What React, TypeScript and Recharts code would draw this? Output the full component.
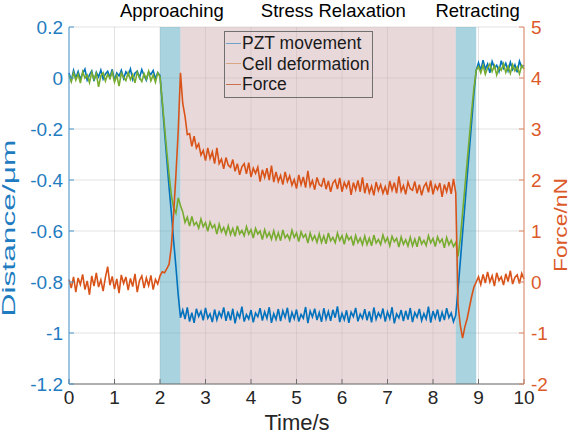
import {
  LineChart,
  Line,
  XAxis,
  YAxis,
  CartesianGrid,
  ReferenceArea,
  ReferenceLine,
} from "recharts";

// sampled every 0.05 s from 0 to 10 s (201 samples)
const STEP = 0.05;

const pztMovement = [
  0.02, -0.01, 0.03, 0.0, 0.025, -0.005, 0.018, 0.035, -0.008, 0.012,
  0.028, -0.012, 0.022, 0.004, 0.031, -0.004, 0.016, 0.026, 0.002, 0.034,
  -0.01, 0.02, 0.008, 0.03, -0.002, 0.024, 0.011, 0.036, -0.006, 0.019,
  0.027, 0.001, 0.033, 0.009, -0.009, 0.023, 0.014, 0.029, -0.003, 0.021,
  0.01,
  -0.1, -0.21, -0.32, -0.43, -0.53, -0.64, -0.74, -0.85, -0.94,
  -0.91, -0.945, -0.9, -0.955, -0.92, -0.96, -0.905, -0.935, -0.915, -0.95,
  -0.902, -0.942, -0.925, -0.957, -0.908, -0.948, -0.918, -0.938, -0.9, -0.952,
  -0.915, -0.95, -0.905, -0.962, -0.92, -0.94, -0.897, -0.955, -0.928, -0.945,
  -0.91, -0.958, -0.922, -0.936, -0.903, -0.951, -0.917, -0.943, -0.899, -0.96,
  -0.924, -0.947, -0.906, -0.953, -0.913, -0.939, -0.901, -0.958, -0.919, -0.944,
  -0.908, -0.955, -0.927, -0.942, -0.898, -0.961, -0.914, -0.937, -0.905, -0.949,
  -0.92, -0.956, -0.903, -0.945, -0.916, -0.952, -0.909, -0.94, -0.896, -0.957,
  -0.923, -0.948, -0.911, -0.96, -0.918, -0.936, -0.902, -0.954, -0.926, -0.943,
  -0.907, -0.95, -0.915, -0.958, -0.9, -0.946, -0.921, -0.939, -0.904, -0.955,
  -0.917, -0.944, -0.899, -0.962, -0.925, -0.941, -0.91, -0.953, -0.913, -0.947,
  -0.902, -0.957, -0.92, -0.938, -0.906, -0.951, -0.924, -0.945, -0.897, -0.959,
  -0.914, -0.942, -0.908, -0.955, -0.919, -0.949, -0.903, -0.94, -0.922, -0.956,
  -0.93,
  -0.83, -0.72, -0.61, -0.5, -0.39, -0.28, -0.17, -0.06, 0.03,
  0.06, 0.03, 0.07, 0.035, 0.055, 0.02, 0.065, 0.04, 0.05, 0.025,
  0.068, 0.038, 0.058, 0.028, 0.062, 0.033, 0.052, 0.022, 0.066, 0.042,
  0.05,
];

const cellDeformation = [
  0.01, -0.015, 0.02, -0.008, 0.015, -0.02, 0.025, 0.0, 0.012, -0.018,
  0.022, -0.005, 0.018, -0.035, 0.008, 0.02, -0.012, 0.015, -0.002, 0.024,
  -0.016, 0.01, -0.032, 0.019, 0.003, -0.01, 0.021, -0.006, 0.014, -0.019,
  0.023, 0.001, -0.014, 0.017, -0.004, 0.026, -0.011, 0.012, -0.017, 0.02,
  0.005,
  -0.09, -0.19, -0.29, -0.38, -0.46, -0.51, -0.53, -0.47, -0.5,
  -0.525, -0.566, -0.546, -0.581, -0.543, -0.577, -0.566, -0.589, -0.553, -0.583,
  -0.567, -0.601, -0.565, -0.588, -0.576, -0.612, -0.573, -0.603, -0.586, -0.613,
  -0.58, -0.614, -0.59, -0.621, -0.58, -0.611, -0.598, -0.619, -0.583, -0.612,
  -0.595, -0.628, -0.59, -0.612, -0.6, -0.634, -0.595, -0.624, -0.606, -0.632,
  -0.599, -0.633, -0.607, -0.638, -0.596, -0.627, -0.614, -0.634, -0.597, -0.625,
  -0.608, -0.641, -0.603, -0.625, -0.613, -0.647, -0.608, -0.636, -0.619, -0.644,
  -0.611, -0.645, -0.619, -0.65, -0.608, -0.639, -0.625, -0.646, -0.608, -0.637,
  -0.619, -0.652, -0.614, -0.635, -0.623, -0.657, -0.618, -0.646, -0.628, -0.654,
  -0.62, -0.653, -0.628, -0.658, -0.616, -0.647, -0.633, -0.653, -0.616, -0.644,
  -0.626, -0.658, -0.621, -0.642, -0.629, -0.663, -0.624, -0.652, -0.634, -0.659,
  -0.625, -0.658, -0.632, -0.662, -0.621, -0.651, -0.637, -0.657, -0.619, -0.647,
  -0.629, -0.661, -0.623, -0.645, -0.632, -0.666, -0.626, -0.654, -0.636, -0.661,
  -0.645,
  -0.7, -0.63, -0.53, -0.43, -0.33, -0.23, -0.13, -0.04, 0.03,
  0.045, 0.02, 0.05, 0.015, 0.04, 0.055, 0.025, 0.048, 0.012, 0.042,
  0.03, 0.056, 0.022, 0.046, 0.018, 0.052, 0.028, 0.044, 0.016, 0.05,
  0.035,
];

const force = [
  0.05, -0.12, 0.1, -0.2, 0.08, -0.05, 0.15, -0.15, 0.02, -0.25,
  0.12, -0.08, 0.18, -0.1, 0.04, -0.18, 0.09, 0.3, -0.06, 0.11,
  -0.14, 0.06, -0.22, 0.14, -0.03, 0.1, -0.16, 0.07, -0.09, 0.16,
  -0.2, 0.03, 0.12, -0.12, 0.08, -0.07, 0.13, -0.15, 0.05, -0.04,
  0.12,
  0.2, 0.18, 0.26, 0.35, 0.7, 1.35, 2.1, 2.95, 4.1,
  3.5,
  3.25, 2.89, 2.91, 2.66, 2.86, 2.63, 2.71, 2.49, 2.58, 2.38,
  2.63, 2.42, 2.55, 2.32, 2.63, 2.32, 2.41, 2.22, 2.44, 2.29,
  2.25, 2.4, 2.17, 2.32, 2.1, 2.26, 2.32, 2.12, 2.34, 2.06,
  2.23, 2.13, 2.25, 1.97, 2.2, 2.05, 2.23, 2.0, 2.28, 1.96,
  2.16, 1.97, 2.09, 1.91, 2.16, 1.97, 2.08, 1.9, 2.01, 1.83,
  2.1, 1.91, 2.06, 1.85, 2.18, 1.88, 1.99, 1.81, 2.05, 1.91,
  1.88, 2.04, 1.82, 1.98, 1.77, 1.94, 2.0, 1.82, 2.04, 1.77,
  1.95, 1.85, 1.99, 1.71, 1.95, 1.81, 1.99, 1.77, 2.05, 1.74,
  1.94, 1.75, 1.88, 1.7, 1.96, 1.79, 1.91, 1.74, 1.87, 1.71,
  1.98, 1.8, 1.95, 1.74, 2.07, 1.78, 1.89, 1.72, 1.96, 1.83,
  1.8, 1.97, 1.74, 1.91, 1.7, 1.87, 1.94, 1.76, 1.99, 1.72,
  1.9, 1.81, 1.94, 1.67, 1.91, 1.77, 1.96, 1.73, 2.02,
  1.75,
  -0.45, -0.85, -1.1, -0.88, -0.72, -0.5, -0.28, -0.1, 0.0,
  0.1, -0.05, 0.15, -0.02, 0.2, 0.0, 0.12, -0.08, 0.18, 0.03,
  0.1, -0.06, 0.16, 0.01, 0.22, -0.04, 0.09, 0.14, -0.03, 0.17,
  0.06,
];

const xTicks = [0, 1, 2, 3, 4, 5, 6, 7, 8, 9, 10];
const distanceTicks = [-1.2, -1, -0.8, -0.6, -0.4, -0.2, 0, 0.2];
const forceTicks = [-2, -1, 0, 1, 2, 3, 4, 5];

const phaseNames = ["Approaching", "Stress Relaxation", "Retracting"];
const phaseStart = [2, 2.45, 8.5];
const phaseEnd = [2.45, 8.5, 8.95];
const phaseTitleAt = [2.26, 5.81, 8.98];

const seriesNames = ["PZT movement", "Cell deformation", "Force"];

const data = pztMovement.map((v, i) => ({
  t: +(i * STEP).toFixed(2),
  pzt: v,
  cell: cellDeformation[i],
  force: force[i],
}));

const BLUE = "#0072bd";
const GREEN = "#77ac30";
const ORANGE = "#d95319";
const phaseFill = ["#53a7bf", "#d3b1b5", "#53a7bf"];
const legendColors = ["#6fa3cc", "#d9a682", "#c9704c"];

const FONT = "'Liberation Sans', Arial, sans-serif";

export default function App() {
  return (
    <div
      style={{
        position: "absolute",
        left: 0,
        top: 0,
        width: 573,
        height: 439,
        background: "#fff",
        fontFamily: FONT,
      }}
    >
      <LineChart
        width={573}
        height={439}
        data={data}
        margin={{ top: 27, right: 0, bottom: 0, left: 0 }}
        style={{ fontFamily: FONT }}
      >
        {phaseNames.map((name, i) => (
          <ReferenceArea
            key={name}
            yAxisId="left"
            x1={phaseStart[i]}
            x2={phaseEnd[i]}
            fill={phaseFill[i]}
            fillOpacity={0.5}
            stroke="none"
          />
        ))}
        <CartesianGrid yAxisId="left" stroke="#262626" strokeOpacity={0.13} />
        <XAxis
          type="number"
          dataKey="t"
          domain={[0, 10]}
          ticks={xTicks}
          height={55}
          stroke="#6e6e6e"
          tickSize={-5}
          tickMargin={12}
          tick={{ fill: "#262626", fontSize: 19 }}
        />
        <YAxis
          yAxisId="left"
          domain={[-1.2, 0.2]}
          ticks={distanceTicks}
          width={69}
          stroke="#4b98cf"
          tickSize={-5}
          tickMargin={11}
          tick={{ fill: "#1f7cc1", fontSize: 19 }}
          tickFormatter={(v) => String(v)}
        />
        <YAxis
          yAxisId="right"
          orientation="right"
          domain={[-2, 5]}
          ticks={forceTicks}
          width={49}
          stroke="#e08a66"
          tickSize={-5}
          tickMargin={12}
          tick={{ fill: "#dc5a2a", fontSize: 19 }}
        />
        {phaseNames.map((name, i) => (
          <ReferenceLine
            key={"t" + name}
            yAxisId="left"
            x={phaseTitleAt[i]}
            stroke="none"
            label={{
              value: name,
              position: "top",
              offset: 10,
              fill: "#000",
              fontSize: 18.5,
            }}
          />
        ))}
        <Line
          yAxisId="left"
          dataKey="pzt"
          stroke={BLUE}
          strokeWidth={1.6}
          dot={false}
          isAnimationActive={false}
        />
        <Line
          yAxisId="left"
          dataKey="cell"
          stroke={GREEN}
          strokeWidth={1.6}
          dot={false}
          isAnimationActive={false}
        />
        <Line
          yAxisId="right"
          dataKey="force"
          stroke={ORANGE}
          strokeWidth={1.6}
          dot={false}
          isAnimationActive={false}
        />
      </LineChart>

      <svg
        width={573}
        height={439}
        style={{ position: "absolute", left: 0, top: 0, pointerEvents: "none" }}
      >
        <text
          transform="translate(15,228) rotate(-90)"
          textAnchor="middle"
          fontSize={18}
          fill="#1f7cc1"
          textLength={177}
          lengthAdjust="spacingAndGlyphs"
          fontFamily={FONT}
        >
          Distance/μm
        </text>
        <text
          transform="translate(567,225) rotate(-90)"
          textAnchor="middle"
          fontSize={18}
          fill="#dc5a2a"
          textLength={94}
          lengthAdjust="spacingAndGlyphs"
          fontFamily={FONT}
        >
          Force/nN
        </text>
        <text
          x={297}
          y={430}
          textAnchor="middle"
          fontSize={22}
          fill="#262626"
          fontFamily={FONT}
        >
          Time/s
        </text>
      </svg>

      <div
        style={{
          position: "absolute",
          left: 224,
          top: 31,
          width: 147,
          height: 64,
          border: "1px solid #707070",
          fontSize: 17.5,
          color: "#1a1a1a",
          lineHeight: "20.5px",
          paddingTop: 1,
          boxSizing: "content-box",
        }}
      >
        {seriesNames.map((name, i) => (
          <div key={name} style={{ display: "flex", alignItems: "center", height: 20.5 }}>
            <span
              style={{
                display: "inline-block",
                width: 15,
                height: 0,
                borderTop: `1.5px solid ${legendColors[i]}`,
                marginLeft: 1,
                marginRight: 1,
              }}
            />
            <span>{name}</span>
          </div>
        ))}
      </div>
    </div>
  );
}
